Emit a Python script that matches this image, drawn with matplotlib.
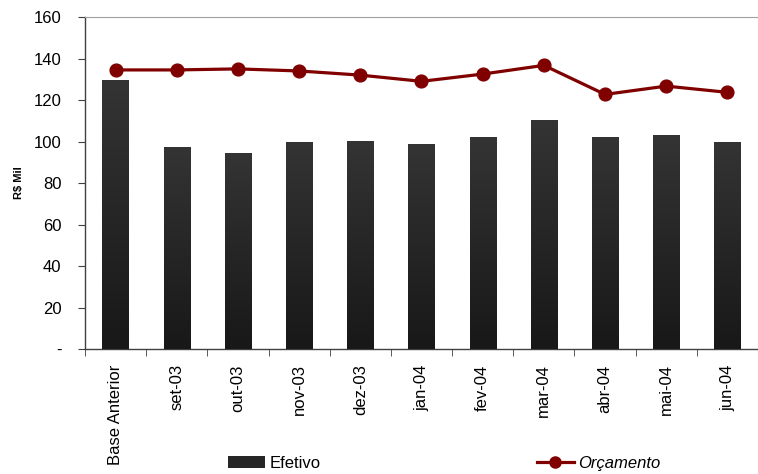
import numpy as np
import matplotlib.pyplot as plt
from matplotlib.patches import Patch
from matplotlib.lines import Line2D
from matplotlib.ticker import FuncFormatter
from matplotlib.colors import LinearSegmentedColormap

plt.rcParams["font.family"] = ["Liberation Sans", "DejaVu Sans"]

# monthly figures, R$ Mil
meses = ["Base Anterior", "set-03", "out-03", "nov-03", "dez-03", "jan-04",
         "fev-04", "mar-04", "abr-04", "mai-04", "jun-04"]
efetivo = [129.6, 97.3, 94.5, 99.8, 100.2, 98.8, 102.2, 110.4, 102.2, 103.1, 99.8]
orcamento = [134.5, 134.5, 135.0, 134.0, 132.0, 129.0, 132.5, 136.7, 122.7, 126.7, 123.7]

red = "#800000"
fs = 12

fig = plt.figure(figsize=(7.58, 4.74), dpi=100)
ax = fig.add_axes([0.1121, 0.2637, 0.8879, 0.7004])

x = np.arange(len(meses))
bars = ax.bar(x, efetivo, width=0.43, color="#262626", zorder=2)

# vertical shading on each bar, lighter on top
grad = np.linspace(0, 1, 256).reshape(-1, 1)
cmap = LinearSegmentedColormap.from_list("barra", ["#181818", "#343434"])
for b in bars:
    x0, w, h = b.get_x(), b.get_width(), b.get_height()
    im = ax.imshow(grad, cmap=cmap, aspect="auto", origin="lower",
                   extent=[x0, x0 + w, 0, h], zorder=3)
    im.set_clip_path(b)

ax.plot(x, orcamento, color=red, lw=2.3, marker="o", ms=9.2, zorder=4)

ax.set_xlim(-0.5, len(meses) - 0.5)
ax.set_ylim(0, 160)
ax.set_yticks(range(0, 161, 20))
ax.yaxis.set_major_formatter(FuncFormatter(lambda v, p: "-" if v == 0 else f"{v:.0f}"))

ax.set_xticks(x)
ax.set_xticklabels(meses, rotation=90)
ax.set_xticks(np.arange(-0.5, len(meses)), minor=True)
ax.tick_params(axis="x", which="major", length=0, pad=11, labelsize=fs)
ax.tick_params(axis="x", which="minor", length=5, direction="out", color="#404040")
ax.tick_params(axis="y", length=5, direction="out", color="#404040", labelsize=fs, pad=12)

for s in ("left", "bottom"):
    ax.spines[s].set_color("#404040")
    ax.spines[s].set_linewidth(1.0)
ax.spines["top"].set_color("#a0a0a0")
ax.spines["right"].set_visible(False)

ax.set_ylabel("R$ Mil", fontsize=8, fontweight="bold", labelpad=7)

h1 = Patch(facecolor="#262626")
h2 = Line2D([], [], color=red, lw=2.3, marker="o", ms=8)
fig.legend([h1], ["Efetivo"], loc="center", bbox_to_anchor=(0.362, 0.023),
           frameon=False, fontsize=fs, handlelength=2.2, handletextpad=0.3)
leg2 = fig.legend([h2], ["Orçamento"], loc="center", bbox_to_anchor=(0.79, 0.023),
                  frameon=False, fontsize=fs, handlelength=2.2, handletextpad=0.3)
for t in leg2.get_texts():
    t.set_fontstyle("italic")

fig.savefig("out.png", dpi=100)
